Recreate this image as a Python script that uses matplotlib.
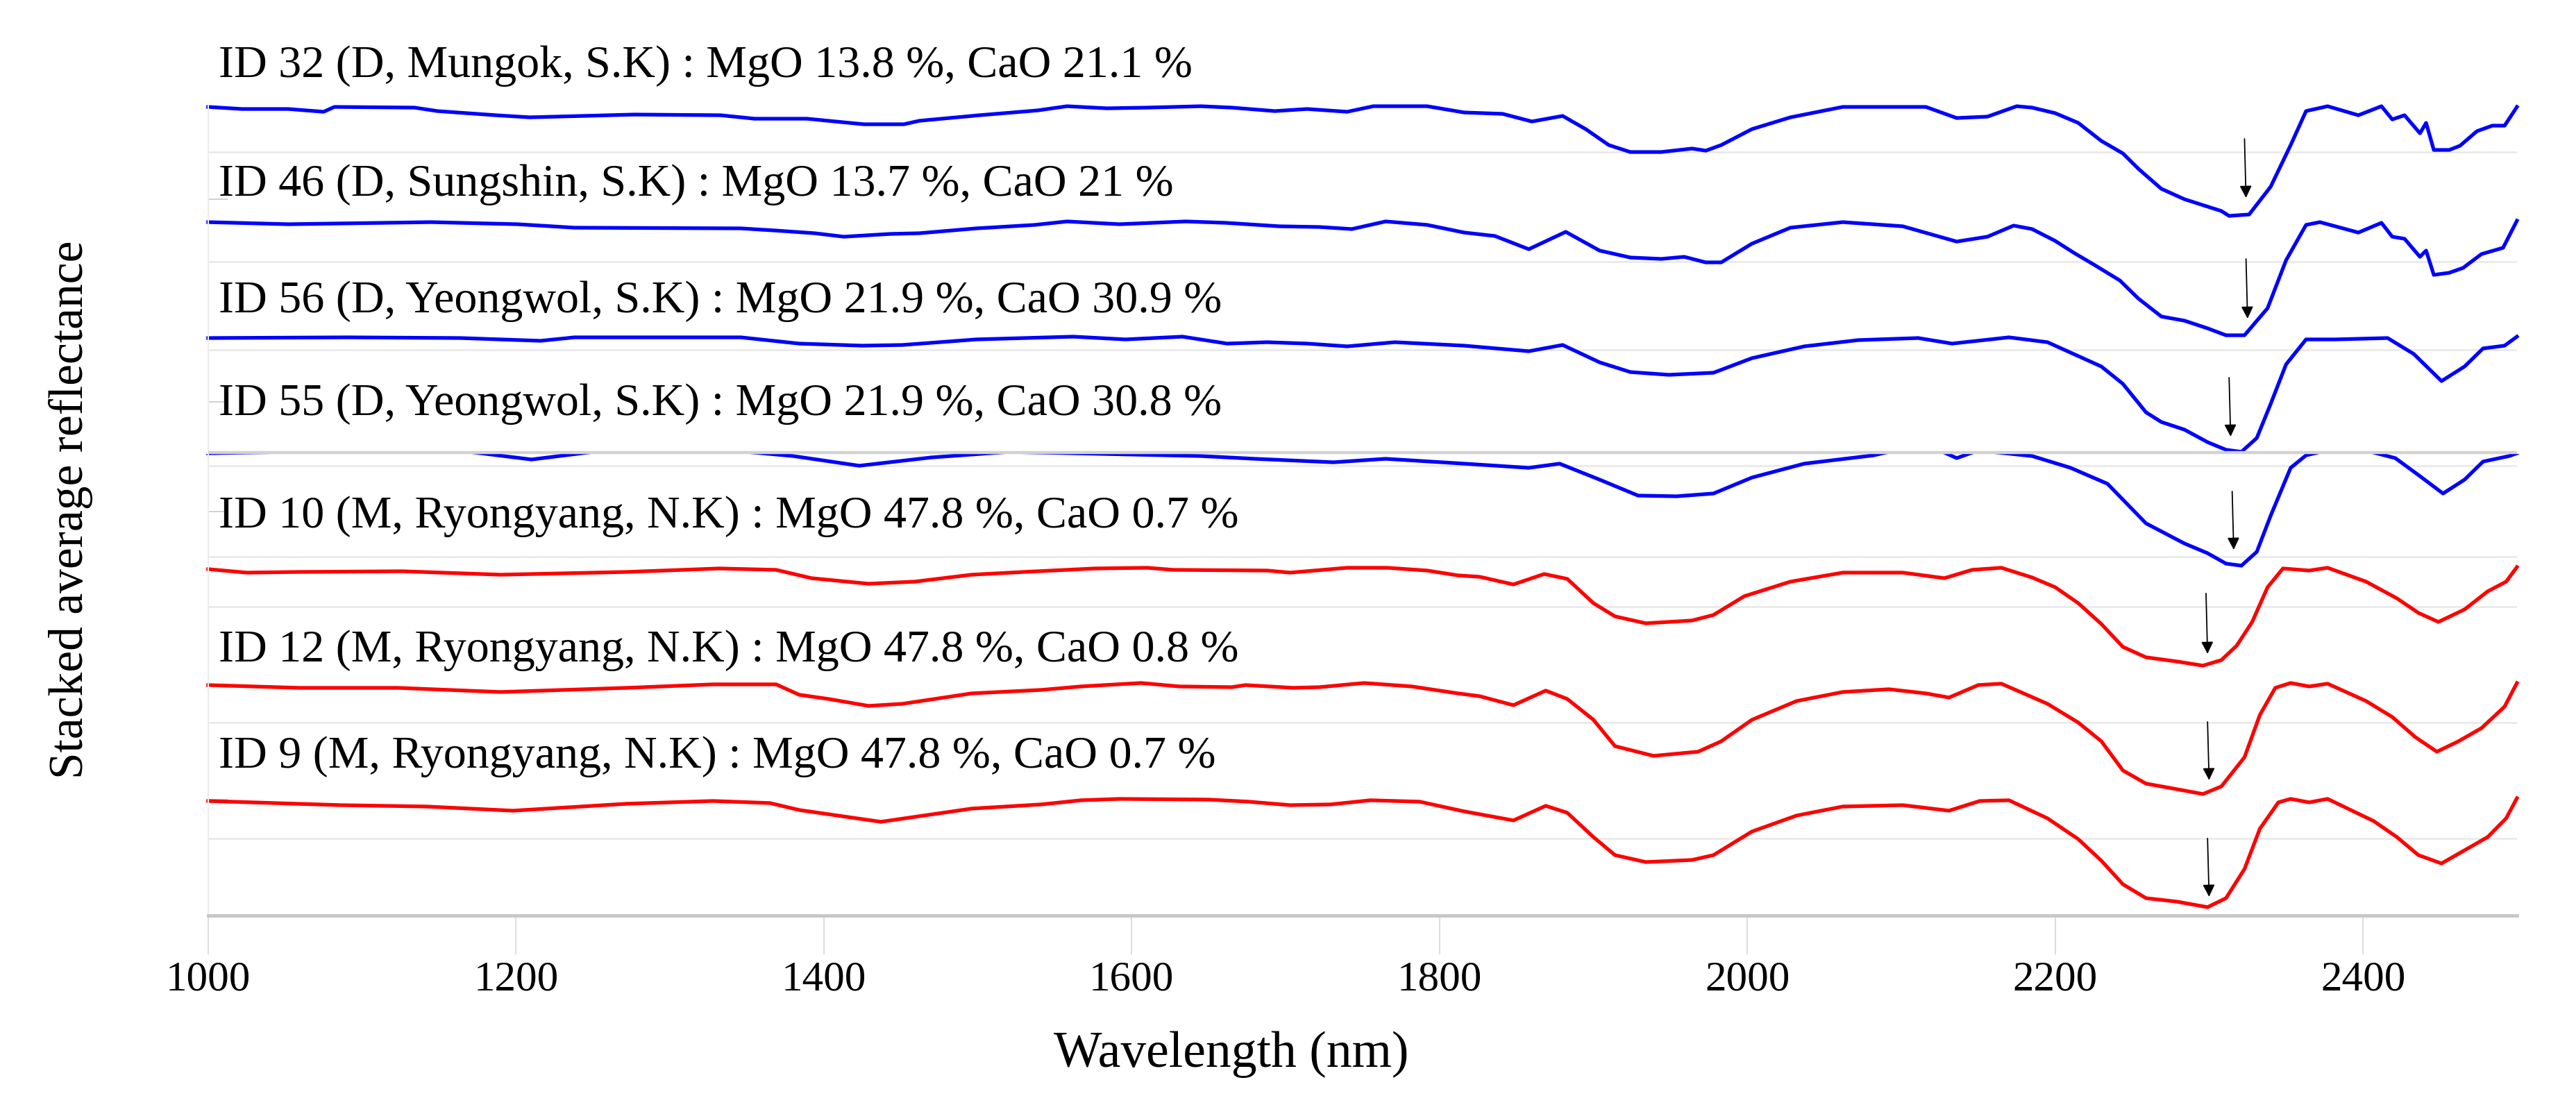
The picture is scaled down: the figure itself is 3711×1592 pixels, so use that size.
import matplotlib
matplotlib.use("Agg")
import matplotlib.pyplot as plt
from matplotlib.patches import Rectangle

plt.rcParams['font.family'] = ['Liberation Serif', 'DejaVu Serif']

# ---------------- data (stacked reflectance, arbitrary units) ----------------
labels = [
    "ID 32 (D, Mungok, S.K) : MgO 13.8 %, CaO 21.1 %",
    "ID 46 (D, Sungshin, S.K) : MgO 13.7 %, CaO 21 %",
    "ID 56 (D, Yeongwol, S.K) : MgO 21.9 %, CaO 30.9 %",
    "ID 55 (D, Yeongwol, S.K) : MgO 21.9 %, CaO 30.8 %",
    "ID 10 (M, Ryongyang, N.K) : MgO 47.8 %, CaO 0.7 %",
    "ID 12 (M, Ryongyang, N.K) : MgO 47.8 %, CaO 0.8 %",
    "ID 9 (M, Ryongyang, N.K) : MgO 47.8 %, CaO 0.7 %",
]
colors = ["#0000ff", "#0000ff", "#0000ff", "#0000ff", "#ff0000", "#ff0000", "#ff0000"]

wl_32 = [1000, 1022, 1052, 1075, 1082, 1134, 1149, 1187, 1209, 1277, 1333, 1355, 1389, 1426, 1452,
         1462, 1501, 1539, 1558, 1584, 1610, 1645, 1665, 1693, 1714, 1740, 1757, 1792, 1816, 1841,
         1860, 1880, 1895, 1910, 1924, 1944, 1964, 1973, 1983, 2003, 2028, 2062, 2116, 2136, 2156,
         2175, 2185, 2200, 2215, 2230, 2244, 2254, 2269, 2284, 2308, 2313, 2326, 2340, 2353, 2363,
         2377, 2397, 2412, 2419, 2427, 2437, 2441, 2446, 2456, 2463, 2474, 2484, 2492, 2500]
r_32 = [11.65, 11.62, 11.62, 11.58, 11.65, 11.64, 11.59, 11.53, 11.50, 11.54, 11.53, 11.48, 11.48, 11.40, 11.40,
        11.45, 11.53, 11.60, 11.66, 11.63, 11.64, 11.66, 11.64, 11.59, 11.62, 11.58, 11.66, 11.66, 11.57, 11.55,
        11.44, 11.52, 11.33, 11.10, 11.00, 11.00, 11.05, 11.02, 11.10, 11.33, 11.50, 11.65, 11.65, 11.49, 11.51,
        11.66, 11.64, 11.56, 11.42, 11.16, 10.98, 10.76, 10.47, 10.32, 10.15, 10.08, 10.10, 10.50, 11.10, 11.59,
        11.66, 11.53, 11.66, 11.47, 11.53, 11.27, 11.42, 11.03, 11.03, 11.09, 11.30, 11.38, 11.38, 11.65]

wl_46 = [1000, 1052, 1145, 1201, 1238, 1346, 1368, 1394, 1413, 1443, 1462, 1499, 1537, 1558, 1592,
         1635, 1661, 1696, 1722, 1743, 1765, 1792, 1816, 1836, 1858, 1882, 1904, 1924, 1944, 1959,
         1973, 1983, 2003, 2028, 2062, 2101, 2136, 2156, 2173, 2185, 2200, 2212, 2225, 2242, 2254,
         2269, 2284, 2299, 2311, 2323, 2338, 2350, 2363, 2372, 2397, 2412, 2419, 2427, 2437, 2441,
         2446, 2456, 2465, 2477, 2491, 2500]
r_46 = [9.99, 9.96, 9.99, 9.96, 9.91, 9.90, 9.87, 9.83, 9.78, 9.82, 9.83, 9.90, 9.95, 10.00, 9.96,
        10.00, 9.98, 9.93, 9.92, 9.89, 10.00, 9.95, 9.84, 9.79, 9.60, 9.85, 9.58, 9.48, 9.46, 9.49,
        9.41, 9.41, 9.68, 9.91, 9.99, 9.93, 9.71, 9.78, 9.94, 9.89, 9.72, 9.55, 9.38, 9.15, 8.89,
        8.63, 8.57, 8.46, 8.36, 8.36, 8.75, 9.44, 9.95, 9.99, 9.84, 9.98, 9.78, 9.75, 9.49, 9.58,
        9.23, 9.26, 9.33, 9.53, 9.62, 10.01]

wl_56 = [1000, 1090, 1164, 1216, 1238, 1346, 1384, 1425, 1451, 1499, 1562, 1596, 1633, 1662, 1688,
         1714, 1740, 1771, 1816, 1858, 1880, 1904, 1924, 1949, 1978, 2003, 2037, 2072, 2111, 2133,
         2170, 2195, 2230, 2244, 2259, 2269, 2284, 2299, 2311, 2321, 2331, 2340, 2350, 2363, 2382,
         2416, 2433, 2451, 2466, 2478, 2492, 2500]
r_56 = [8.32, 8.33, 8.32, 8.28, 8.33, 8.33, 8.24, 8.21, 8.22, 8.30, 8.34, 8.30, 8.34, 8.24, 8.26,
        8.24, 8.20, 8.26, 8.21, 8.13, 8.22, 7.97, 7.83, 7.79, 7.82, 8.03, 8.20, 8.29, 8.32, 8.24,
        8.33, 8.26, 7.91, 7.66, 7.25, 7.11, 7.00, 6.82, 6.71, 6.68, 6.88, 7.37, 7.94, 8.30, 8.30,
        8.32, 8.09, 7.70, 7.91, 8.17, 8.21, 8.34]

wl_55 = [1000, 1100, 1170, 1210, 1250, 1340, 1380, 1423, 1470, 1520, 1645, 1680, 1731, 1765, 1816,
         1858, 1878, 1904, 1929, 1954, 1978, 2003, 2037, 2082, 2100, 2125, 2136, 2150, 2185, 2210,
         2234, 2259, 2284, 2299, 2311, 2321, 2331, 2340, 2353, 2363, 2380, 2400, 2421, 2437, 2452,
         2466, 2478, 2495, 2500]
r_55 = [6.66, 6.70, 6.68, 6.57, 6.68, 6.70, 6.62, 6.48, 6.60, 6.68, 6.62, 6.58, 6.53, 6.58, 6.51,
        6.45, 6.51, 6.28, 6.05, 6.04, 6.08, 6.31, 6.51, 6.63, 6.72, 6.70, 6.59, 6.70, 6.62, 6.45,
        6.22, 5.65, 5.36, 5.22, 5.07, 5.04, 5.24, 5.76, 6.45, 6.63, 6.72, 6.71, 6.59, 6.33, 6.08,
        6.28, 6.54, 6.62, 6.66]

wl_10 = [1000, 1025, 1059, 1126, 1190, 1272, 1332, 1369, 1392, 1429, 1459, 1496, 1530, 1576, 1610,
         1627, 1688, 1703, 1740, 1766, 1792, 1812, 1826, 1848, 1868, 1883, 1900, 1914, 1934, 1964,
         1978, 1998, 2028, 2062, 2101, 2128, 2146, 2165, 2185, 2200, 2215, 2230, 2244, 2259, 2279,
         2296, 2308, 2318, 2328, 2338, 2348, 2365, 2377, 2402, 2422, 2436, 2449, 2466, 2481, 2493, 2500]
r_10 = [4.99, 4.94, 4.95, 4.96, 4.91, 4.95, 5.00, 4.98, 4.86, 4.78, 4.81, 4.91, 4.95, 5.00, 5.01,
        4.98, 4.97, 4.94, 5.01, 5.01, 4.97, 4.90, 4.88, 4.77, 4.92, 4.85, 4.50, 4.31, 4.21, 4.25,
        4.33, 4.60, 4.81, 4.94, 4.94, 4.86, 4.98, 5.01, 4.87, 4.73, 4.50, 4.20, 3.87, 3.72, 3.66,
        3.60, 3.68, 3.89, 4.23, 4.73, 5.00, 4.97, 5.01, 4.81, 4.57, 4.36, 4.23, 4.41, 4.67, 4.81, 5.02]

wl_12 = [1000, 1059, 1123, 1190, 1272, 1328, 1369, 1384, 1403, 1429, 1451, 1496, 1541, 1567, 1606,
         1631, 1665, 1674, 1705, 1722, 1751, 1782, 1812, 1826, 1848, 1869, 1883, 1900, 1914, 1939,
         1968, 1983, 2003, 2032, 2062, 2092, 2116, 2131, 2150, 2165, 2195, 2215, 2230, 2244, 2259,
         2279, 2296, 2308, 2323, 2333, 2343, 2353, 2365, 2377, 2402, 2419, 2434, 2448, 2462, 2477,
         2492, 2500]
r_12 = [3.32, 3.28, 3.28, 3.22, 3.28, 3.33, 3.33, 3.18, 3.12, 3.02, 3.05, 3.20, 3.25, 3.30, 3.35,
        3.30, 3.29, 3.32, 3.28, 3.29, 3.35, 3.30, 3.20, 3.16, 3.03, 3.24, 3.12, 2.82, 2.44, 2.30,
        2.36, 2.51, 2.82, 3.09, 3.22, 3.26, 3.20, 3.14, 3.32, 3.34, 3.05, 2.78, 2.51, 2.09, 1.90,
        1.82, 1.75, 1.86, 2.28, 2.89, 3.28, 3.35, 3.30, 3.34, 3.09, 2.86, 2.57, 2.36, 2.51, 2.70,
        3.01, 3.35]

wl_9 = [1000, 1086, 1142, 1198, 1272, 1328, 1365, 1384, 1437, 1496, 1541, 1567, 1592, 1650, 1676,
        1703, 1729, 1755, 1787, 1816, 1848, 1869, 1883, 1900, 1914, 1934, 1964, 1978, 2003, 2032,
        2062, 2101, 2131, 2151, 2170, 2195, 2215, 2230, 2244, 2259, 2279, 2299, 2311, 2323, 2333,
        2345, 2353, 2365, 2377, 2407, 2422, 2436, 2451, 2466, 2481, 2493, 2500]
r_9 = [1.65, 1.59, 1.57, 1.51, 1.61, 1.65, 1.62, 1.52, 1.35, 1.54, 1.60, 1.66, 1.68, 1.67, 1.64,
       1.59, 1.60, 1.66, 1.64, 1.50, 1.37, 1.58, 1.48, 1.13, 0.87, 0.77, 0.80, 0.87, 1.21, 1.44,
       1.57, 1.59, 1.51, 1.65, 1.66, 1.40, 1.10, 0.79, 0.45, 0.25, 0.20, 0.12, 0.25, 0.67, 1.25,
       1.63, 1.68, 1.63, 1.68, 1.36, 1.13, 0.87, 0.75, 0.94, 1.13, 1.40, 1.69]

wavelengths = [wl_32, wl_46, wl_56, wl_55, wl_10, wl_12, wl_9]
spectra = [r_32, r_46, r_56, r_55, r_10, r_12, r_9]

# absorption-minimum arrows (wavelength, tail, head)
arrow_wl = [2324, 2325, 2314, 2316, 2299, 2300, 2300]
arrow_top = [11.19, 9.46, 7.75, 6.11, 4.64, 2.79, 1.11]
arrow_bot = [10.34, 8.60, 6.90, 5.27, 3.77, 1.95, 0.27]

# label baselines
label_y = [12.08, 10.37, 8.69, 7.21, 5.59, 3.66, 2.13]

# panel separator lines / remnant tick marks of the stacked figure
grid_levels = [11.00, 9.42, 8.15, 6.48, 5.17, 4.45, 2.78, 1.11]
panel_edge = 6.67
left_marks = [10.32, 7.40, 5.82, 1.67]
xticks = [1000, 1200, 1400, 1600, 1800, 2000, 2200, 2400]

# ---------------- figure ----------------
fig = plt.figure(figsize=(37.12, 15.92), dpi=100)
ax = fig.add_axes([0.0808, 0.1715, 0.8960, 0.7330])
ax.set_xlim(1000, 2500)
ax.set_ylim(0, 11.67)

# gridlines
ax.set_yticks(grid_levels, minor=True)
ax.yaxis.grid(True, which='minor', color='#e8e8e8', linewidth=1.8)
ax.set_yticks(left_marks)
ax.set_yticklabels([])
ax.tick_params(axis='y', which='major', direction='in', length=20, width=1.2, color='#c8c8c8')
ax.tick_params(axis='y', which='minor', length=0)
ax.axhline(panel_edge, color='#d2d2d2', linewidth=3.2, zorder=3)

for wl, r, c, lab, ly in zip(wavelengths, spectra, colors, labels, label_y):
    line, = ax.plot(wl, r, color=c, linewidth=3.8, clip_on=False, zorder=2,
                    solid_joinstyle='round')
    if lab.startswith("ID 55"):
        clip = Rectangle((900, -1), 1700, panel_edge + 1 - 0.015, transform=ax.transData)
        line.set_clip_path(clip)
        line.set_clip_on(True)
    ax.text(1007, ly, lab, fontsize=47.5, va='baseline', ha='left', color='black')

for xw, yt, yb in zip(arrow_wl, arrow_top, arrow_bot):
    ax.annotate('', xy=(xw, yb), xytext=(xw - 1, yt),
                arrowprops=dict(arrowstyle='-|>', color='black', lw=1.3,
                                mutation_scale=26, shrinkA=0, shrinkB=0))

# axes styling
for s in ['top', 'right']:
    ax.spines[s].set_visible(False)
ax.spines['left'].set_color('#ececec')
ax.spines['left'].set_linewidth(1.5)
ax.spines['bottom'].set_color('#c8c8c8')
ax.spines['bottom'].set_linewidth(3.6)

ax.set_xticks(xticks)
ax.set_xticklabels([str(t) for t in xticks])
ax.tick_params(axis='x', direction='out', length=40, width=1.2, color='#d6d6d6',
               labelsize=44, pad=7)

ax.set_xlabel("Wavelength (nm)", fontsize=53)
ax.xaxis.set_label_coords(0.443, -0.143)
ax.set_ylabel("Stacked average reflectance", fontsize=50)
ax.yaxis.set_label_coords(-0.050, 0.501)

fig.savefig("out.png", dpi=100)
